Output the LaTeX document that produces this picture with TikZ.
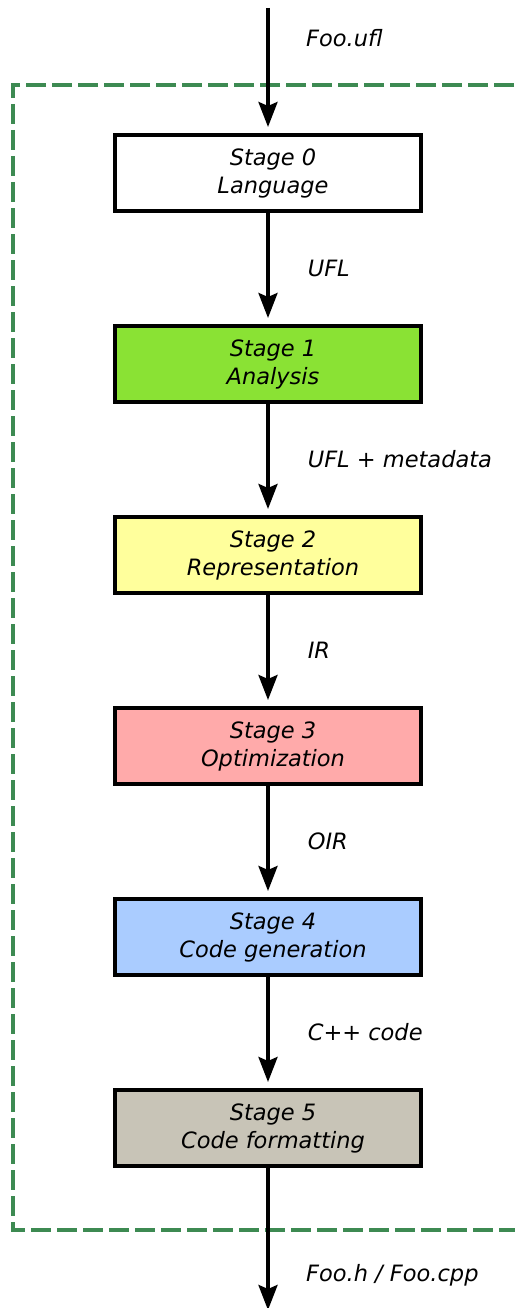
\documentclass[tikz,border=0pt]{standalone}
\usepackage{fontspec}
\setmainfont{DejaVu Sans}
\usetikzlibrary{arrows.meta}
\definecolor{gA}{HTML}{8AE234}
\definecolor{gB}{HTML}{FFFF9C}
\definecolor{gC}{HTML}{FFAAAA}
\definecolor{gD}{HTML}{AACCFF}
\definecolor{gE}{HTML}{C8C4B7}
\definecolor{frame}{HTML}{3D8A52}
\newcommand\shl{\hspace*{10pt}}
\tikzset{
  stagebox/.style={draw=black, line width=4pt, minimum width=306pt, minimum height=76pt,
    inner sep=0pt, align=center, font=\fontsize{22.5}{28}\selectfont\itshape},
  arr/.style={line width=3.6pt, -{Stealth[length=25pt,width=19pt,inset=4pt]}},
  lbl/.style={anchor=west, inner sep=0pt, font=\fontsize{22.5}{28}\selectfont\itshape},
  frm/.style={draw=frame, line width=4pt, dash pattern=on 20pt off 6pt}
}
\begin{document}
\begin{tikzpicture}[x=1pt,y=-1pt]
\useasboundingbox (0,0) rectangle (514,1308);
\draw[frm] (540,85) -- (13,85) -- (13,1230) -- (540,1230);
\node[stagebox, fill=white] (s0) at (268,173) {\shl Stage 0\\\shl Language};
\node[stagebox, fill=gA] (s1) at (268,364) {\shl Stage 1\\\shl Analysis};
\node[stagebox, fill=gB] (s2) at (268,555) {\shl Stage 2\\\shl Representation};
\node[stagebox, fill=gC] (s3) at (268,746) {\shl Stage 3\\\shl Optimization};
\node[stagebox, fill=gD] (s4) at (268,937) {\shl Stage 4\\\shl Code generation};
\node[stagebox, fill=gE] (s5) at (268,1128) {\shl Stage 5\\\shl Code formatting};
\coordinate (in) at (268,8);
\coordinate (out) at (268,1310);
\draw[arr, shorten >=6pt] (in) -- (s0);
\draw[arr, shorten >=6pt] (s0) -- node[lbl, pos=0.5, xshift=38pt] {UFL} (s1);
\draw[arr, shorten >=6pt] (s1) -- node[lbl, pos=0.5, xshift=38pt] {UFL + metadata} (s2);
\draw[arr, shorten >=6pt] (s2) -- node[lbl, pos=0.5, xshift=38pt] {IR} (s3);
\draw[arr, shorten >=6pt] (s3) -- node[lbl, pos=0.5, xshift=38pt] {OIR} (s4);
\draw[arr, shorten >=6pt] (s4) -- node[lbl, pos=0.5, xshift=38pt] {C++ code} (s5);
\draw[arr] (s5) -- (out);
\node[lbl] (lin) at (306,38) {Foo.ufl};
\node[lbl] (lout) at (306,1275) {Foo.h / Foo.cpp};
\end{tikzpicture}
\end{document}
